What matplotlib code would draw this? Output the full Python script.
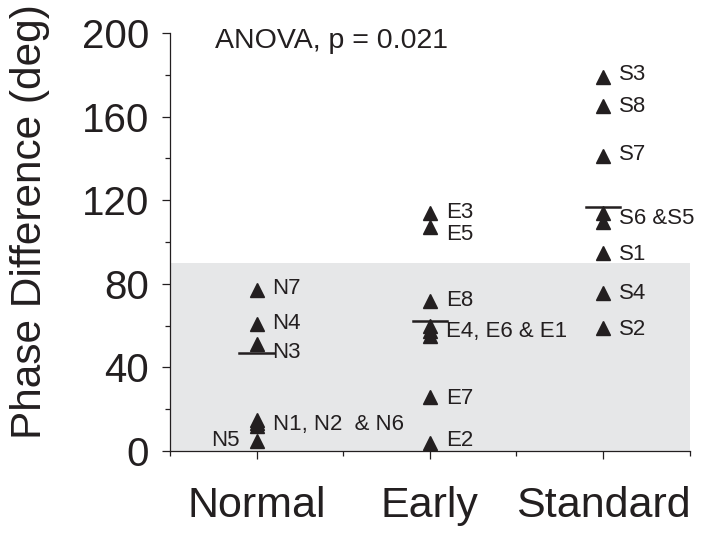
import matplotlib.pyplot as plt
from matplotlib.ticker import MultipleLocator

# data
groups = ["Normal", "Early", "Standard"]
normal = [77, 61, 51, 15, 13.5, 12, 5]
early = [114, 107, 72, 60, 57.5, 55, 26, 4]
standard = [179, 165, 141, 114, 109.5, 95, 75.5, 59]
group_line = [47, 62, 117]

# point labels: (group index, y, text, side)
labels = [
    (0, 78, "N7", "r"), (0, 61, "N4", "r"), (0, 47, "N3", "r"),
    (0, 12.5, "N1, N2  & N6", "r"), (0, 5, "N5", "l"),
    (1, 114, "E3", "r"), (1, 103.5, "E5", "r"), (1, 72, "E8", "r"),
    (1, 57, "E4, E6 & E1", "r"), (1, 25, "E7", "r"), (1, 5, "E2", "r"),
    (2, 180, "S3", "r"), (2, 165, "S8", "r"), (2, 142, "S7", "r"),
    (2, 111.5, "S6 &S5", "r"), (2, 94, "S1", "r"), (2, 75.5, "S4", "r"),
    (2, 58, "S2", "r"),
]

ink = "#231f20"
font = ["Liberation Sans", "DejaVu Sans"]

fig = plt.figure(figsize=(7.14, 5.34), dpi=100)
ax = fig.add_axes([0.238, 0.1554, 0.728, 0.7826])

ax.axhspan(0, 90, color="#e6e7e8", zorder=0, lw=0)

for i, vals in enumerate([normal, early, standard]):
    ax.plot([i + 1] * len(vals), vals, "^", color=ink, ms=10.5, mec=ink, zorder=3)
    ax.plot([i + 0.9, i + 1.1], [group_line[i]] * 2, color=ink, lw=1.8, zorder=4)

for gi, y, txt, side in labels:
    if side == "r":
        ax.annotate(txt, (gi + 1, y), xytext=(11.5, 0), textcoords="offset points",
                    ha="left", va="center", fontsize=16, family=font, color=ink)
    else:
        ax.annotate(txt, (gi + 1, y), xytext=(-12, 0), textcoords="offset points",
                    ha="right", va="center", fontsize=16, family=font, color=ink)

ax.text(0.76, 196, "ANOVA, p = 0.021", ha="left", va="center",
        fontsize=20.5, family=font, color=ink)

ax.set_xlim(0.5, 3.5)
ax.set_ylim(0, 200)
ax.set_xticks([1, 2, 3])
ax.set_xticklabels(groups, family=font, fontsize=31, color=ink)
ax.xaxis.set_minor_locator(MultipleLocator(0.5))
ax.yaxis.set_major_locator(MultipleLocator(40))
ax.yaxis.set_minor_locator(MultipleLocator(20))
for lab in ax.get_yticklabels():
    lab.set_family(font)
    lab.set_fontsize(29)
    lab.set_color(ink)

ax.tick_params(axis="both", which="major", length=6, width=0.9, color=ink)
ax.tick_params(axis="both", which="minor", length=3.5, width=0.9, color=ink)
ax.tick_params(axis="x", which="major", pad=19)
ax.tick_params(axis="y", which="major", pad=9)

for s in ["top", "right"]:
    ax.spines[s].set_visible(False)
for s in ["left", "bottom"]:
    ax.spines[s].set_linewidth(0.9)
    ax.spines[s].set_color(ink)

fig.text(0.042, 1 - 222 / 534, "Phase Difference (deg)", rotation=90,
         ha="center", va="center", fontsize=30.5, family=font, color=ink)

fig.savefig("out.png", dpi=100)
